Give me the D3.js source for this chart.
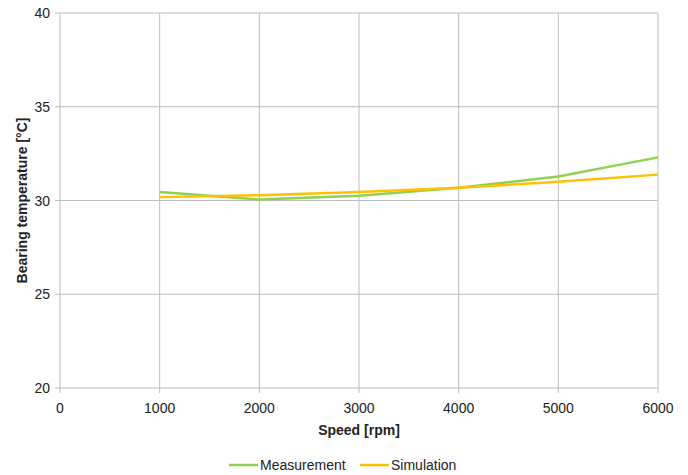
<!DOCTYPE html>
<html>
<head>
<meta charset="utf-8">
<script src="https://cdn.jsdelivr.net/npm/d3@7"></script>
<style>
  body { margin: 0; background: #fff; }
  text { font-family: "Liberation Sans", Arial, sans-serif; fill: #222; }
</style>
</head>
<body>
<div id="chart"></div>
<script>
// chart data
var speeds = [1000, 2000, 3000, 4000, 5000, 6000]
var measurement = [30.45, 30.05, 30.25, 30.68, 31.28, 32.3]
var simulation = [30.18, 30.28, 30.45, 30.68, 31.0, 31.38]
var xTicks = [0, 1000, 2000, 3000, 4000, 5000, 6000]
var yTicks = [20, 25, 30, 35, 40]

var width = 688, height = 475
var margin = {left: 60, right: 30, top: 13, bottom: 87}

var svg = d3.select("#chart").append("svg")
  .attr("width", width)
  .attr("height", height)

var x = d3.scaleLinear().domain([0, 6000]).range([margin.left, width - margin.right])
var y = d3.scaleLinear().domain([20, 40]).range([height - margin.bottom, margin.top])

// grid lines
svg.selectAll(".vgrid").data(xTicks).enter().append("line")
  .attr("x1", d => x(d)).attr("x2", d => x(d))
  .attr("y1", y(40)).attr("y2", y(20) + 5)
  .style("stroke", "#bdbdbd").style("stroke-width", 1)
svg.selectAll(".hgrid").data(yTicks).enter().append("line")
  .attr("x1", x(0) - 5).attr("x2", x(6000))
  .attr("y1", d => y(d)).attr("y2", d => y(d))
  .style("stroke", "#bdbdbd").style("stroke-width", 1)

// tick labels
svg.selectAll(".xlab").data(xTicks).enter().append("text")
  .attr("x", d => x(d)).attr("y", y(20) + 25)
  .attr("text-anchor", "middle")
  .style("font-size", "14px")
  .text(d => d)
svg.selectAll(".ylab").data(yTicks).enter().append("text")
  .attr("x", x(0) - 10).attr("y", d => y(d) + 5)
  .attr("text-anchor", "end")
  .style("font-size", "14px")
  .text(d => d)

// axis titles
svg.append("text")
  .attr("x", (x(0) + x(6000)) / 2).attr("y", y(20) + 47)
  .attr("text-anchor", "middle")
  .style("font-size", "14px").style("font-weight", "bold")
  .text("Speed [rpm]")
svg.append("text")
  .attr("transform", "translate(27," + (y(30)) + ") rotate(-90)")
  .attr("text-anchor", "middle")
  .style("font-size", "14px").style("font-weight", "bold")
  .text("Bearing temperature [°C]")

// lines
var series = [
  {name: "Measurement", values: measurement, color: "#92d050"},
  {name: "Simulation", values: simulation, color: "#ffc000"}
]
var line = d3.line()
  .x((d, i) => x(speeds[i]))
  .y(d => y(d))

series.forEach(function(s) {
  svg.append("path")
    .attr("d", line(s.values))
    .style("fill", "none")
    .style("stroke", s.color)
    .style("stroke-width", 2.5)
})

// legend
var legend = svg.append("g").attr("transform", "translate(0," + 465 + ")")
var legX = [229, 360]
series.forEach(function(s, i) {
  legend.append("line")
    .attr("x1", legX[i]).attr("x2", legX[i] + 29)
    .attr("y1", 0).attr("y2", 0)
    .style("stroke", s.color).style("stroke-width", 2.5)
  legend.append("text")
    .attr("x", legX[i] + 31).attr("y", 5)
    .style("font-size", "14px")
    .text(s.name)
})
</script>
</body>
</html>
